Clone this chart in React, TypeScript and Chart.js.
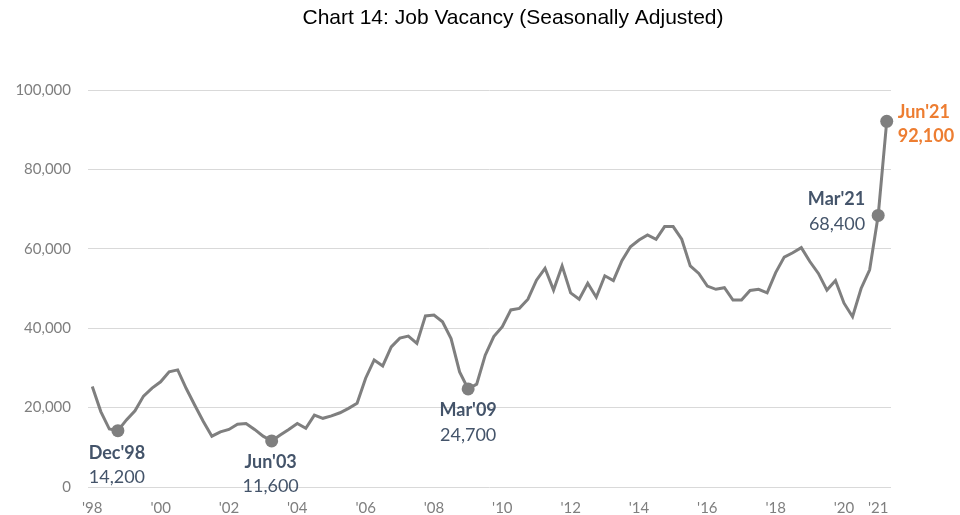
import React, { useEffect, useRef } from "react";
import { Chart, registerables } from "chart.js";

Chart.register(...registerables);

// ---- Data ----
const firstYear = 1998;
const lastYear = 2021;
const quarterMonths = ["Mar", "Jun", "Sep", "Dec"];
const lastCategory = "Jun'21";

const categories: string[] = [];
outer: for (let y = firstYear; y <= lastYear; y++) {
  for (const m of quarterMonths) {
    const c = `${m}'${String(y).slice(2)}`;
    categories.push(c);
    if (c === lastCategory) break outer;
  }
}

// Job vacancies (seasonally adjusted), quarterly Mar'98 .. Jun'21
const vacancies = [
  25300, 19000, 14600, 14200, // 1998
  16900, 19200, 22900, 24900, // 1999
  26500, 29000, 29500, 24800, // 2000
  20600, 16500, 12800, 13900, // 2001
  14500, 15800, 16000, 14500, // 2002
  12800, 11600, 13100, 14500, // 2003
  16000, 14800, 18100, 17300, // 2004
  17900, 18700, 19800, 21100, // 2005
  27400, 32000, 30500, 35300, // 2006
  37500, 38000, 36200, 43100, // 2007
  43300, 41600, 37400, 29000, // 2008
  24700, 25900, 33200, 37900, // 2009
  40400, 44600, 45000, 47300, // 2010
  52100, 55100, 49600, 55700, // 2011
  48900, 47300, 51300, 47800, // 2012
  53200, 52000, 57000, 60500, // 2013
  62200, 63500, 62400, 65600, // 2014
  65600, 62400, 55700, 53800, // 2015
  50600, 49800, 50200, 47100, // 2016
  47100, 49500, 49800, 48900, // 2017
  54000, 57900, 59000, 60300, // 2018
  56800, 53800, 49600, 52000, // 2019
  46300, 42900, 50000, 54700, // 2020
  68400, 92100,               // 2021
];

const xTickLabels = ["'98", "'00", "'02", "'04", "'06", "'08", "'10", "'12", "'14", "'16", "'18", "'20", "'21"];
const yTicks = [0, 20000, 40000, 60000, 80000, 100000];

const annotatedCategories = ["Dec'98", "Jun'03", "Mar'09", "Mar'21", "Jun'21"];

const titleText = "Chart 14: Job Vacancy (Seasonally Adjusted)";

// ---- Styles for annotations (positions relative to the point) ----
const annotationStyles: Record<string, { dx: number; dyLabel: number; dyValue: number; align: CanvasTextAlign; color: string; boldValue: boolean }> = {
  "Dec'98": { dx: -1, dyLabel: 23, dyValue: 47, align: "center", color: "#44546a", boldValue: false },
  "Jun'03": { dx: -1, dyLabel: 21, dyValue: 45, align: "center", color: "#44546a", boldValue: false },
  "Mar'09": { dx: 0, dyLabel: 21, dyValue: 46, align: "center", color: "#44546a", boldValue: false },
  "Mar'21": { dx: -13, dyLabel: -16, dyValue: 9, align: "right", color: "#44546a", boldValue: false },
  "Jun'21": { dx: 11, dyLabel: -9, dyValue: 15, align: "left", color: "#ed7d31", boldValue: true },
};

const LINE_COLOR = "#7f7f7f";
const TICK_COLOR = "#7f7f7f";
const GRID_COLOR = "#d9d9d9";
const ANNOT_FONT = "Lato, 'Open Sans', sans-serif";

const CHART_LEFT = 88;
const CHART_RIGHT = 891;
const CHART_TOP = 90;
const CHART_BOTTOM = 487;
const W = 960;
const H = 515;

const annotationPlugin = {
  id: "annotations",
  afterDatasetsDraw(chart: any) {
    const ctx = chart.ctx as CanvasRenderingContext2D;
    const xs = chart.scales.x;
    const ys = chart.scales.y;
    ctx.save();
    ctx.textBaseline = "middle";
    for (const cat of annotatedCategories) {
      const idx = categories.indexOf(cat);
      if (idx < 0) continue;
      const v = vacancies[idx];
      const st = annotationStyles[cat];
      const px = xs.getPixelForValue(idx);
      const py = ys.getPixelForValue(v);
      ctx.textAlign = st.align;
      ctx.fillStyle = st.color;
      ctx.font = `bold 18px ${ANNOT_FONT}`;
      ctx.fillText(cat, px + st.dx, py + st.dyLabel);
      ctx.font = `${st.boldValue ? "bold " : ""}18px ${ANNOT_FONT}`;
      ctx.fillText(v.toLocaleString("en-US"), px + st.dx, py + st.dyValue);
    }
    ctx.restore();
  },
};

const titlePlugin = {
  id: "customTitle",
  afterDraw(chart: any) {
    const ctx = chart.ctx as CanvasRenderingContext2D;
    ctx.save();
    ctx.font = "21px 'Liberation Sans', Arial, sans-serif";
    ctx.fillStyle = "#000000";
    ctx.textAlign = "center";
    ctx.textBaseline = "middle";
    ctx.fillText(titleText, 513, 18);
    ctx.restore();
  },
};

export default function App() {
  const canvasRef = useRef<HTMLCanvasElement | null>(null);

  useEffect(() => {
    const canvas = canvasRef.current;
    if (!canvas) return;
    const annotatedIdx = annotatedCategories.map((c) => categories.indexOf(c));
    const chart = new Chart(canvas, {
      type: "line",
      data: {
        labels: categories,
        datasets: [
          {
            label: "Job Vacancy",
            data: vacancies,
            borderColor: LINE_COLOR,
            backgroundColor: LINE_COLOR,
            borderWidth: 3,
            tension: 0,
            pointRadius: categories.map((_, i) => (annotatedIdx.includes(i) ? 6.5 : 0)),
            pointBackgroundColor: LINE_COLOR,
            pointBorderWidth: 0,
            pointHoverRadius: 0,
          },
        ],
      },
      options: {
        responsive: false,
        animation: false,
        devicePixelRatio: 1,
        layout: {
          padding: { top: CHART_TOP, right: W - CHART_RIGHT, left: 0, bottom: 0 },
        },
        plugins: {
          legend: { display: false },
          title: { display: false },
          tooltip: { enabled: false },
        },
        scales: {
          x: {
            type: "category",
            offset: true,
            grid: { display: false, drawTicks: false },
            border: { display: false },
            ticks: {
              autoSkip: false,
              maxRotation: 0,
              minRotation: 0,
              padding: 12,
              color: TICK_COLOR,
              font: { family: ANNOT_FONT, size: 15 },
              callback: (_v: any, index: number) => {
                const cat = categories[index];
                if (!cat.startsWith("Mar")) return "";
                const t = cat.slice(3);
                return xTickLabels.includes(t) ? t : "";
              },
            },
            afterFit: (scale: any) => {
              scale.height = H - CHART_BOTTOM;
            },
          },
          y: {
            min: 0,
            max: 100000,
            afterBuildTicks: (scale: any) => {
              scale.ticks = yTicks.map((v) => ({ value: v }));
            },
            grid: { color: GRID_COLOR, lineWidth: 1, drawTicks: false },
            border: { display: false },
            ticks: {
              padding: 17,
              color: TICK_COLOR,
              font: { family: ANNOT_FONT, size: 15 },
              callback: (v: any) => Number(v).toLocaleString("en-US"),
            },
            afterFit: (scale: any) => {
              scale.width = CHART_LEFT;
            },
          },
        },
      },
      plugins: [annotationPlugin, titlePlugin],
    });
    return () => chart.destroy();
  }, []);

  return (
    <div style={{ position: "absolute", left: 0, top: 0, width: W, height: H, background: "#ffffff" }}>
      <canvas ref={canvasRef} width={W} height={H} style={{ display: "block" }} />
    </div>
  );
}
